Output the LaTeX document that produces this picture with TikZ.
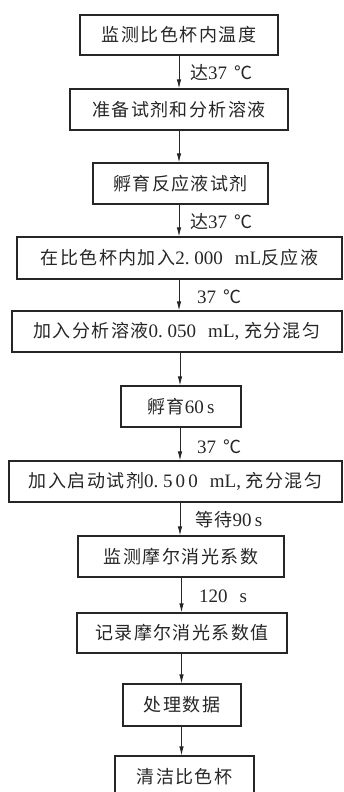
\documentclass[tikz,border=0pt]{standalone}
\usepackage{fontspec}
\setmainfont{Liberation Serif}
\newfontfamily\cjk[LetterSpace=8]{Noto Sans CJK SC}
\newcommand{\zh}[1]{{\cjk #1}}
\newcommand{\lat}[1]{{\rmfamily\fontsize{19}{21}\selectfont #1}}
\usetikzlibrary{arrows.meta}
\tikzset{
  box/.style={draw=black!85, line width=1.3pt, minimum height=41pt, inner sep=0pt,
    text=black!85, font=\cjk\fontsize{18}{21}\selectfont},
  arr/.style={draw=black!85, line width=0.8pt, -{Latex[length=9pt,width=4.5pt]}},
  lab/.style={anchor=west, inner sep=0pt, text=black!85, font=\cjk\fontsize{18}{21}\selectfont}
}
\begin{document}
\begin{tikzpicture}[x=1pt,y=-1pt]
\useasboundingbox (0,0) rectangle (343,792);
\coordinate (ax1) at (179,0);
\coordinate (ax2) at (180,0);
\coordinate (ax3) at (181.5,0);

\node[box, minimum width=198pt, minimum height=40pt] (b1) at (179,35) {监测比色杯内温度};
\node[box, minimum width=218pt] (b2) at (179,109.5) {准备试剂和分析溶液};
\node[box, minimum width=175pt] (b3) at (180.5,183.5) {孵育反应液试剂};
\node[box, minimum width=325pt, minimum height=42pt] (b4) at (179.5,258) {在比色杯内加入\lat{2.\ 000\hspace{12pt}mL}反应液};
\node[box, minimum width=330pt] (b5) at (177,331.5) {加入分析溶液\lat{0.\ 050\hspace{12pt}mL,\ }充分混匀};
\node[box, minimum width=120pt] (b6) at (181,406.5) {孵育\lat{60\,s}};
\node[box, minimum width=333pt] (b7) at (175.5,481.5) {加入启动试剂\lat{0.\ 5\,0\,0\hspace{12pt}mL,\ }充分混匀};
\node[box, minimum width=206pt] (b8) at (181,556.5) {监测摩尔消光系数};
\node[box, minimum width=210pt, minimum height=40pt] (b9) at (182,633) {记录摩尔消光系数值};
\node[box, minimum width=118pt, minimum height=42pt] (b10) at (182,705) {处理数据};
\node[box, minimum width=139pt, minimum height=42pt] (b11) at (184.5,777) {清洁比色杯};

\draw[arr] (b1.south -| ax1) -- (b2.north -| ax1);
\draw[arr] (b2.south -| ax1) -- (b3.north -| ax1);
\draw[arr] (b3.south -| ax1) -- (b4.north -| ax1);
\draw[arr] (b4.south -| ax1) -- (b5.north -| ax1);
\draw[arr] (b5.south -| ax2) -- (b6.north -| ax2);
\draw[arr] (b6.south -| ax2) -- (b7.north -| ax2);
\draw[arr] (b7.south -| ax2) -- (b8.north -| ax2);
\draw[arr] (b8.south -| ax3) -- (b9.north -| ax3);
\draw[arr] (b9.south -| ax3) -- (b10.north -| ax3);
\draw[arr] (b10.south -| ax3) -- (b11.north -| ax3);

\node[lab] (l1) at (190,73) {达\lat{37}\hspace{7pt}℃};
\node[lab] (l2) at (190,222) {达\lat{37}\hspace{7pt}℃};
\node[lab] (l3) at (197,297) {\lat{37}\hspace{7pt}℃};
\node[lab] (l4) at (197,447) {\lat{37}\hspace{7pt}℃};
\node[lab] (l5) at (195,520) {等待\lat{90\,s}};
\node[lab] (l6) at (199,596) {\lat{120\hspace{12pt}s}};
\end{tikzpicture}
\end{document}
